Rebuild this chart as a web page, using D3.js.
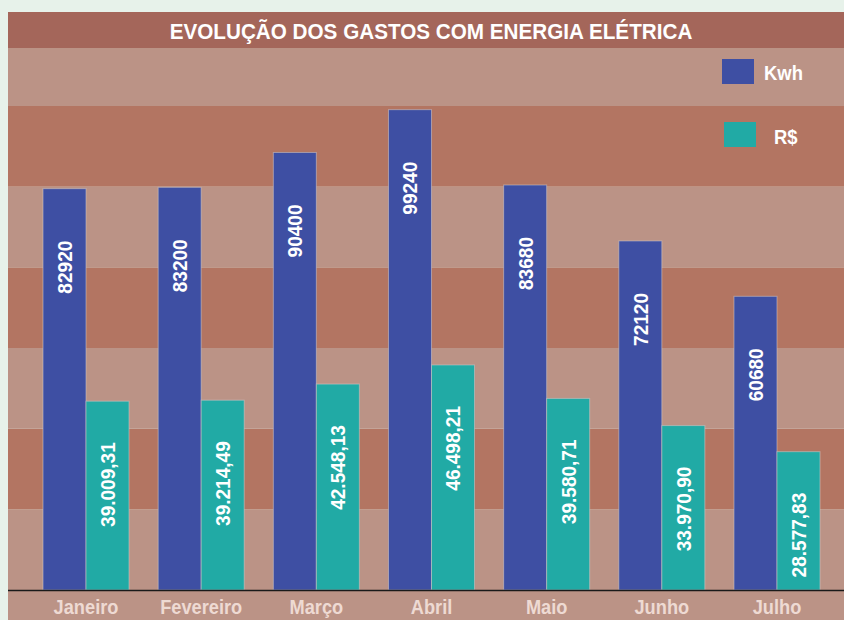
<!DOCTYPE html>
<html>
<head>
<meta charset="utf-8">
<script src="https://cdn.jsdelivr.net/npm/d3@7"></script>
<style>
  body { margin: 0; background: #e7f2ea; }
  text { font-family: "Liberation Sans", Arial, sans-serif; font-weight: bold; }
</style>
</head>
<body>
<div id="chart"></div>
<script>
// data
const months = ["Janeiro", "Fevereiro", "Março", "Abril", "Maio", "Junho", "Julho"];
const kwh = [82920, 83200, 90400, 99240, 83680, 72120, 60680];
const reais = [39009.31, 39214.49, 42548.13, 46498.21, 39580.71, 33970.90, 28577.83];
const seriesNames = ["Kwh", "R$"];
const title = "EVOLUÇÃO DOS GASTOS COM ENERGIA ELÉTRICA";

const COLOR_KWH = "#3e4fa3";
const COLOR_RS = "#21aaa5";
const BAND_LIGHT = "#bb9386";
const BAND_DARK = "#b37562";
const TITLE_BG = "#a4665a";

const W = 844, H = 620;
const frame = { left: 8, top: 12, titleH: 36 };
const plotTop = frame.top + frame.titleH;   // top of striped area
const baseY = 590;                          // zero line

const svg = d3.select("#chart").append("svg")
    .attr("width", W)
    .attr("height", H);

// value scale, shared by both series
const y = d3.scaleLinear()
    .domain([0, 100000])
    .range([baseY, 106]);

const x = d3.scaleBand()
    .domain(months)
    .range([43, 820])
    .paddingInner(0.253)
    .paddingOuter(0);

const xSub = d3.scaleBand()
    .domain(seriesNames)
    .range([0, x.bandwidth()]);

// label area under the baseline
svg.append("rect")
    .attr("x", frame.left).attr("y", baseY)
    .attr("width", W - frame.left).attr("height", H - baseY)
    .attr("fill", BAND_LIGHT);

// alternating stripes, six steps up to 100000 plus the rest above
const stops = d3.range(0, 7).map(i => i * 100000 / 6).concat([y.invert(plotTop)]);
svg.append("g").selectAll("rect")
    .data(d3.pairs(stops))
    .join("rect")
    .attr("x", frame.left)
    .attr("width", W - frame.left)
    .attr("y", d => y(d[1]))
    .attr("height", d => y(d[0]) - y(d[1]))
    .attr("fill", (d, i) => i % 2 === 0 ? BAND_LIGHT : BAND_DARK);

// title bar
svg.append("rect")
    .attr("x", frame.left).attr("y", frame.top)
    .attr("width", W - frame.left).attr("height", frame.titleH)
    .attr("fill", TITLE_BG);

svg.append("text")
    .attr("transform", `translate(431,38.5) scale(0.94,1)`)
    .attr("text-anchor", "middle")
    .attr("fill", "#ffffff")
    .style("font-size", "22px")
    .text(title);

// bars
const groups = svg.append("g").selectAll("g")
    .data(months.map((m, i) => ({ month: m, values: [kwh[i], reais[i]] })))
    .join("g")
    .attr("transform", d => `translate(${x(d.month)},0)`);

groups.selectAll("rect")
    .data(d => d.values.map((v, j) => ({ key: seriesNames[j], value: v })))
    .join("rect")
    .attr("x", d => xSub(d.key))
    .attr("width", xSub.bandwidth())
    .attr("y", d => y(d.value))
    .attr("height", d => baseY - y(d.value))
    .attr("fill", d => d.key === "Kwh" ? COLOR_KWH : COLOR_RS)
    .attr("stroke", "rgba(210,200,200,0.55)")
    .attr("stroke-width", 1);

// rotated value labels inside the bars
const fmtKwh = d3.format("d");
const fmtRs = v => d3.format(",.2f")(v).replace(/,/g, "#").replace(".", ",").replace(/#/g, ".");

groups.selectAll("text.val")
    .data(d => d.values.map((v, j) => ({ key: seriesNames[j], value: v })))
    .join("text")
    .attr("class", "val")
    .attr("transform", d => {
        const cx = xSub(d.key) + xSub.bandwidth() / 2;
        const ty = y(d.value) + (d.key === "Kwh" ? 52 : 41);
        return `translate(${cx},${ty}) rotate(-90) scale(0.93,1)`;
    })
    .attr("text-anchor", "end")
    .attr("dy", "0.36em")
    .attr("fill", "#ffffff")
    .style("font-size", "20.5px")
    .text(d => d.key === "Kwh" ? fmtKwh(d.value) : fmtRs(d.value));

// baseline
svg.append("line")
    .attr("x1", frame.left).attr("x2", W)
    .attr("y1", baseY + 0.5).attr("y2", baseY + 0.5)
    .attr("stroke", "#1a1a1a")
    .attr("stroke-width", 1.5);

// month axis
const xAxis = svg.append("g")
    .attr("transform", `translate(0,${baseY})`)
    .call(d3.axisBottom(x).tickSize(0));
xAxis.select(".domain").remove();
xAxis.selectAll("text")
    .attr("y", 24)
    .attr("dy", 0)
    .attr("transform", "scale(0.89,1)")
    .attr("fill", "#eedad3")
    .style("font-size", "20.5px")
    .style("font-family", "\"Liberation Sans\", Arial, sans-serif")
    .style("font-weight", "bold");

// legend
const legend = svg.append("g");
const legendRows = [
    { name: "Kwh", color: COLOR_KWH, sx: 722, sy: 59, tx: 764, ty: 79.5 },
    { name: "R$", color: COLOR_RS, sx: 724, sy: 122, tx: 774, ty: 144 }
];
legendRows.forEach(r => {
    legend.append("rect")
        .attr("x", r.sx).attr("y", r.sy)
        .attr("width", 32).attr("height", 25)
        .attr("fill", r.color);
    legend.append("text")
        .attr("transform", `translate(${r.tx},${r.ty}) scale(0.9,1)`)
        .attr("fill", "#ffffff")
        .style("font-size", "20.5px")
        .text(r.name);
});
</script>
</body>
</html>
